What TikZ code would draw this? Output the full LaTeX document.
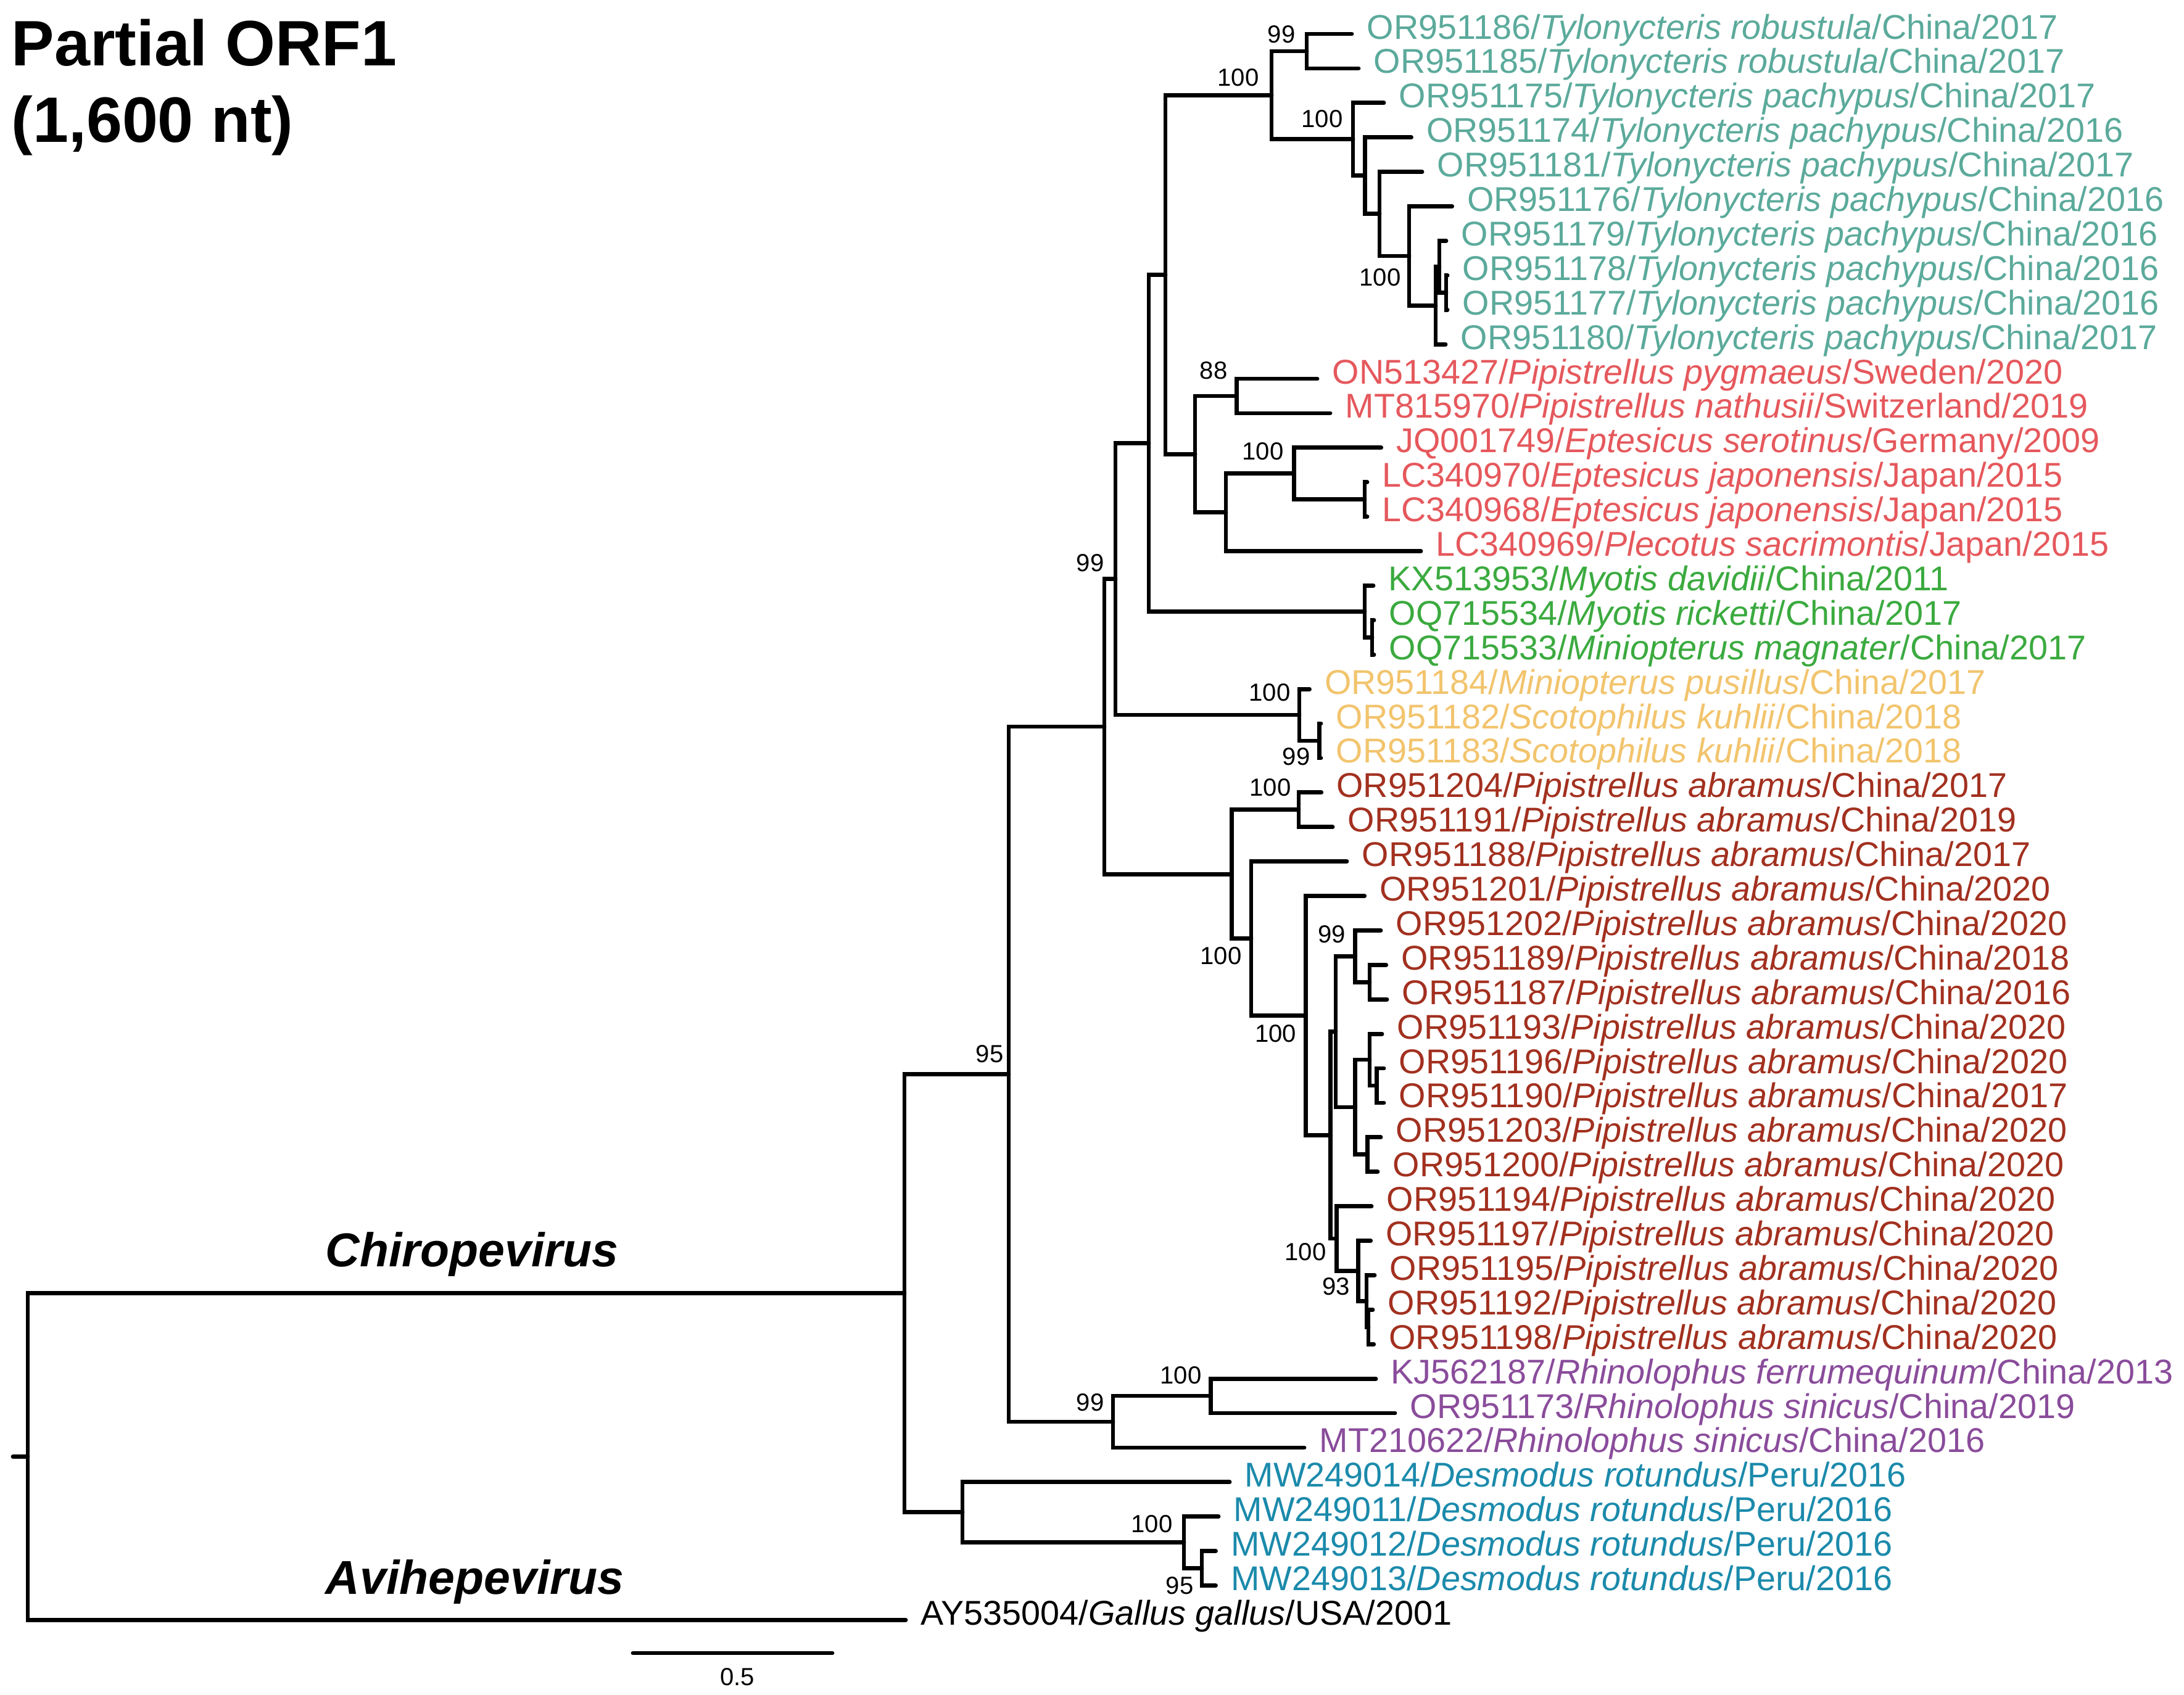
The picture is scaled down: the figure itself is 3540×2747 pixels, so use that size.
\documentclass[tikz,border=0pt]{standalone}
\usepackage{fontspec}
\setmainfont{Liberation Sans}
\usetikzlibrary{calc,positioning}
\definecolor{tylcol}{HTML}{5BAA9B}
\definecolor{eurcol}{HTML}{E5585C}
\definecolor{myocol}{HTML}{3BAA3F}
\definecolor{scocol}{HTML}{F2C46D}
\definecolor{pabcol}{HTML}{A2301F}
\definecolor{rhicol}{HTML}{8A4C9B}
\definecolor{descol}{HTML}{1B8AAB}
\tikzset{
  branch/.style = {line width=0.068cm, line cap=round},
  tip/.style    = {anchor=base west, inner sep=0pt, xshift=0.24cm, yshift=-0.08cm,
                   font=\fontsize{15.85}{18}\selectfont},
  tyl/.style    = {tip, text=tylcol},
  eur/.style    = {tip, text=eurcol},
  myo/.style    = {tip, text=myocol},
  sco/.style    = {tip, text=scocol},
  pab/.style    = {tip, text=pabcol},
  rhi/.style    = {tip, text=rhicol},
  des/.style    = {tip, text=descol},
  boot/.style   = {anchor=east, inner sep=0pt, font=\fontsize{11.4}{13}\selectfont},
  clade/.style  = {anchor=base west, inner sep=0pt, font=\fontsize{21.9}{26}\selectfont\bfseries\itshape},
  title/.style  = {anchor=base west, inner sep=0pt, font=\fontsize{29.6}{35}\selectfont\bfseries}
}
\newcommand{\taxon}[3]{#1/\textit{#2}/#3}
\newcommand{\clade}[3]{\draw[branch] (#1) |- (#2) (#1) |- (#3);}

\begin{document}
\begin{tikzpicture}[x=0.01cm, y=-0.01cm]
\useasboundingbox (0,0) rectangle (3540,2747);

% tips, one row each
\foreach \i/\x in {1/2191, 2/2202, 3/2243, 4/2287.5, 5/2305, 6/2353.6, 7/2344, 8/2346,
  9/2346, 10/2343, 11/2135, 12/2156, 13/2238.6, 14/2216, 15/2216, 16/2303, 17/2226,
  18/2227, 19/2227, 20/2122.5, 21/2141, 22/2141, 23/2141.7, 24/2160, 25/2183,
  26/2211.7, 27/2238, 28/2246.7, 29/2248, 30/2240, 31/2243, 32/2243, 33/2238,
  34/2233, 35/2223, 36/2221.7, 37/2228, 38/2225, 39/2226.7, 40/2230, 41/2261,
  42/2114, 43/1993, 44/1975, 45/1970.5, 46/1970.5, 47/1468}
  \coordinate (l\i) at (\x, {55+55.9*(\i-1)});

% internal nodes
\coordinate (n99r) at (2118,83);
\coordinate (nC) at (2344,474.25);
\coordinate (nB) at (2333,432.3);
\coordinate (nA) at (2327,495.2);
\coordinate (n6) at (2284,414.9);
\coordinate (n5) at (2236,346.7);
\coordinate (n4) at (2212.5,284.7);
\coordinate (n3) at (2193,225.8);
\coordinate (nTy) at (2061,154.4);
\coordinate (n88) at (2004.6,642);
\coordinate (nEj) at (2212,809.7);
\coordinate (nEs) at (2097.5,767.7);
\coordinate (nPl) at (1987,830.6);
\coordinate (nPip) at (1937,736.3);
\coordinate (nTP) at (1889,445.3);
\coordinate (nMr) at (2224,1033.2);
\coordinate (nMy) at (2212,991.3);
\coordinate (nUp) at (1862,718.3);
\coordinate (nSk) at (2138.6,1200.9);
\coordinate (nSc) at (2106,1159);
\coordinate (nMid) at (1808,938.7);
\coordinate (nPa1) at (2105,1312.7);
\coordinate (nG) at (2220,1592.2);
\coordinate (nF) at (2196.7,1550.3);
\coordinate (nI) at (2231.7,1760);
\coordinate (nH) at (2220,1718);
\coordinate (nJ) at (2216.7,1871.8);
\coordinate (nE) at (2196.7,1794.9);
\coordinate (nD) at (2165,1672.6);
\coordinate (nY) at (2218,2151.3);
\coordinate (nX) at (2215,2109.4);
\coordinate (n93) at (2201.7,2060.5);
\coordinate (nK) at (2166.7,2008);
\coordinate (nL) at (2156.7,1840.3);
\coordinate (nM) at (2116.7,1646.4);
\coordinate (nN) at (2028,1521.5);
\coordinate (nPa) at (1996.7,1417.1);
\coordinate (nBat) at (1790,1177.9);
\coordinate (nRf) at (1962.5,2263);
\coordinate (nRh) at (1804,2305);
\coordinate (nChi) at (1635,1741.4);
\coordinate (nD95) at (1948,2542.5);
\coordinate (nD100) at (1919,2500.6);
\coordinate (nDes) at (1560,2451.7);
\coordinate (nBig) at (1466,2096.5);
\coordinate (nRoot) at (45,2361.5);
\coordinate (stub) at (21,2361.5);

% branches
\clade{n99r}{l1}{l2}
\clade{nC}{l8}{l9}
\clade{nB}{l7}{nC}
\clade{nA}{nB}{l10}
\clade{n6}{l6}{nA}
\clade{n5}{l5}{n6}
\clade{n4}{l4}{n5}
\clade{n3}{l3}{n4}
\clade{nTy}{n99r}{n3}
\clade{n88}{l11}{l12}
\clade{nEj}{l14}{l15}
\clade{nEs}{l13}{nEj}
\clade{nPl}{nEs}{l16}
\clade{nPip}{n88}{nPl}
\clade{nTP}{nTy}{nPip}
\clade{nMr}{l18}{l19}
\clade{nMy}{l17}{nMr}
\clade{nUp}{nTP}{nMy}
\clade{nSk}{l21}{l22}
\clade{nSc}{l20}{nSk}
\clade{nMid}{nUp}{nSc}
\clade{nPa1}{l23}{l24}
\clade{nG}{l28}{l29}
\clade{nF}{l27}{nG}
\clade{nI}{l31}{l32}
\clade{nH}{l30}{nI}
\clade{nJ}{l33}{l34}
\clade{nE}{nH}{nJ}
\clade{nD}{nF}{nE}
\clade{nY}{l38}{l39}
\clade{nX}{l37}{nY}
\clade{n93}{l36}{nX}
\clade{nK}{l35}{n93}
\clade{nL}{nD}{nK}
\clade{nM}{l26}{nL}
\clade{nN}{l25}{nM}
\clade{nPa}{nPa1}{nN}
\clade{nBat}{nMid}{nPa}
\clade{nRf}{l40}{l41}
\clade{nRh}{nRf}{l42}
\clade{nChi}{nBat}{nRh}
\clade{nD95}{l45}{l46}
\clade{nD100}{l44}{nD95}
\clade{nDes}{l43}{nD100}
\clade{nBig}{nChi}{nDes}
\clade{nRoot}{nBig}{l47}
\draw[branch] (stub) -- (nRoot);

% tip labels
\node[tyl] (t1) at (l1) {\taxon{OR951186}{Tylonycteris robustula}{China/2017}};
\node[tyl] (t2) at (l2) {\taxon{OR951185}{Tylonycteris robustula}{China/2017}};
\foreach \i/\acc/\yr in {3/OR951175/2017, 4/OR951174/2016, 5/OR951181/2017,
  6/OR951176/2016, 7/OR951179/2016, 8/OR951178/2016, 9/OR951177/2016, 10/OR951180/2017}
  \node[tyl] (t\i) at (l\i) {\taxon{\acc}{Tylonycteris pachypus}{China/\yr}};
\node[eur] (t11) at (l11) {\taxon{ON513427}{Pipistrellus pygmaeus}{Sweden/2020}};
\node[eur] (t12) at (l12) {\taxon{MT815970}{Pipistrellus nathusii}{Switzerland/2019}};
\node[eur] (t13) at (l13) {\taxon{JQ001749}{Eptesicus serotinus}{Germany/2009}};
\node[eur] (t14) at (l14) {\taxon{LC340970}{Eptesicus japonensis}{Japan/2015}};
\node[eur] (t15) at (l15) {\taxon{LC340968}{Eptesicus japonensis}{Japan/2015}};
\node[eur] (t16) at (l16) {\taxon{LC340969}{Plecotus sacrimontis}{Japan/2015}};
\node[myo] (t17) at (l17) {\taxon{KX513953}{Myotis davidii}{China/2011}};
\node[myo] (t18) at (l18) {\taxon{OQ715534}{Myotis ricketti}{China/2017}};
\node[myo] (t19) at (l19) {\taxon{OQ715533}{Miniopterus magnater}{China/2017}};
\node[sco] (t20) at (l20) {\taxon{OR951184}{Miniopterus pusillus}{China/2017}};
\node[sco] (t21) at (l21) {\taxon{OR951182}{Scotophilus kuhlii}{China/2018}};
\node[sco] (t22) at (l22) {\taxon{OR951183}{Scotophilus kuhlii}{China/2018}};
\foreach \i/\acc/\yr in {23/OR951204/2017, 24/OR951191/2019, 25/OR951188/2017,
  26/OR951201/2020, 27/OR951202/2020, 28/OR951189/2018, 29/OR951187/2016,
  30/OR951193/2020, 31/OR951196/2020, 32/OR951190/2017, 33/OR951203/2020,
  34/OR951200/2020, 35/OR951194/2020, 36/OR951197/2020, 37/OR951195/2020,
  38/OR951192/2020, 39/OR951198/2020}
  \node[pab] (t\i) at (l\i) {\taxon{\acc}{Pipistrellus abramus}{China/\yr}};
\node[rhi] (t40) at (l40) {\taxon{KJ562187}{Rhinolophus ferrumequinum}{China/2013}};
\node[rhi] (t41) at (l41) {\taxon{OR951173}{Rhinolophus sinicus}{China/2019}};
\node[rhi] (t42) at (l42) {\taxon{MT210622}{Rhinolophus sinicus}{China/2016}};
\foreach \i/\acc in {43/MW249014, 44/MW249011, 45/MW249012, 46/MW249013}
  \node[des] (t\i) at (l\i) {\taxon{\acc}{Desmodus rotundus}{Peru/2016}};
\node[tip] (t47) at (l47) {\taxon{AY535004}{Gallus gallus}{USA/2001}};

% bootstrap values
\node[boot] (b1) at (2100,56) {99};
\node[boot] (b2) at (2041,125.5) {100};
\node[boot] (b3) at (2177,193) {100};
\node[boot] (b4) at (2271,450) {100};
\node[boot] (b5) at (1990,601) {88};
\node[boot] (b6) at (2081,732) {100};
\node[boot] (b7) at (1790,913) {99};
\node[boot] (b8) at (2092,1123) {100};
\node[boot] (b9) at (2124,1227) {99};
\node[boot] (b10) at (2093,1276.6) {100};
\node[boot] (b11) at (2013,1549.6) {100};
\node[boot] (b12) at (2181.7,1515) {99};
\node[boot] (b13) at (2101.7,1675.7) {100};
\node[boot] (b14) at (2150,2030) {100};
\node[boot] (b15) at (2188.3,2085.7) {93};
\node[boot] (b16) at (1627,1709) {95};
\node[boot] (b17) at (1790,2274) {99};
\node[boot] (b18) at (1948,2230) {100};
\node[boot] (b19) at (1901,2471) {100};
\node[boot] (b20) at (1935,2570.6) {95};

% genus names
\node[clade] (chiro) at (527,2053) {Chiropevirus};
\node[clade] (avihe) at (527,2584) {Avihepevirus};

% title
\node[title] (ttl1) at (18,106) {Partial ORF1};
\node[title] (ttl2) at (18,230) {(1,600 nt)};

% scale bar
\coordinate (sb1) at (1026,2680);
\coordinate (sb2) at (1349,2680);
\draw[branch] (sb1) -- (sb2);
\node[inner sep=0pt, font=\fontsize{11.4}{13}\selectfont] (sblab) at (1195,2719) {0.5};
\end{tikzpicture}
\end{document}
